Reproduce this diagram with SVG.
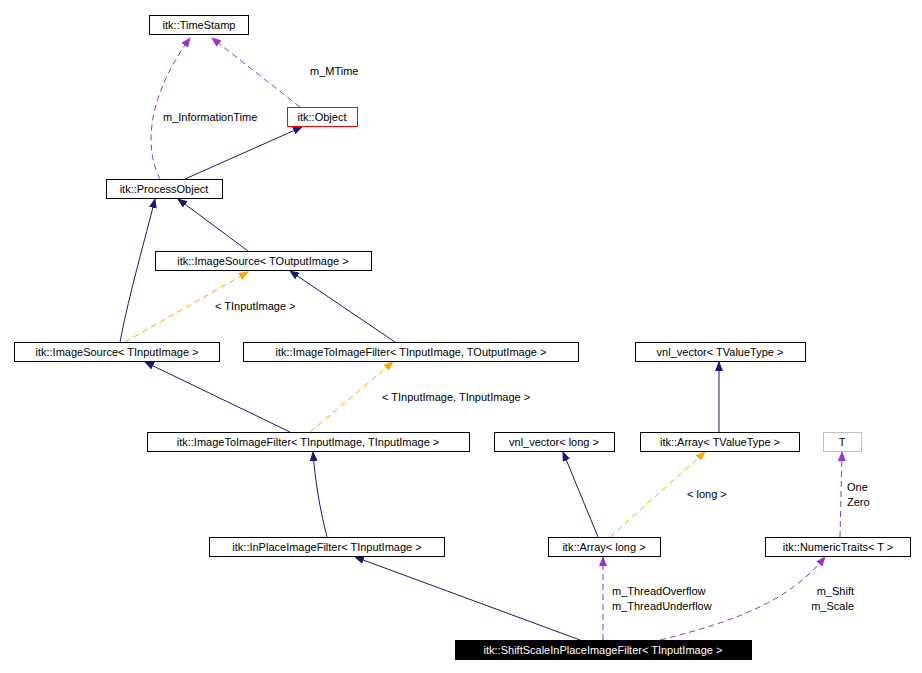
<svg xmlns="http://www.w3.org/2000/svg" width="922" height="673" viewBox="0 0 922 673">
<style>
text{font-family:"Liberation Sans",Arial,sans-serif;font-size:11px;fill:#000}
.n rect{fill:#fff;stroke:#000;stroke-width:1}
.s{fill:none;stroke:#191970;stroke-width:1}
.p{fill:none;stroke:#9a32cd;stroke-width:1;stroke-dasharray:6,4}
.o{fill:none;stroke:#ffa500;stroke-width:1;stroke-dasharray:6,4}
</style>
<defs>
<marker id="as" markerWidth="10" markerHeight="8" refX="9" refY="4" orient="auto" markerUnits="userSpaceOnUse"><path d="M0,0L10,4L0,8z" fill="#191970"/></marker>
<marker id="ap" markerWidth="10" markerHeight="8" refX="9" refY="4" orient="auto" markerUnits="userSpaceOnUse"><path d="M0,0L10,4L0,8z" fill="#9a32cd"/></marker>
<marker id="ao" markerWidth="10" markerHeight="8" refX="9" refY="4" orient="auto" markerUnits="userSpaceOnUse"><path d="M0,0L10,4L0,8z" fill="#ffa500"/></marker>
</defs>
<rect width="922" height="673" fill="#fff"/>
<g id="connectors">
<path class="p" d="M300,107L212,38" marker-end="url(#ap)"/>
<text x="310" y="75">m_MTime</text>
<path class="p" d="M160,179C145,150 145,100 190,38" marker-end="url(#ap)"/>
<text x="163" y="121">m_InformationTime</text>
<path class="s" d="M185,179L302,127" marker-end="url(#as)"/>
<path class="s" d="M248,251L178,199" marker-end="url(#as)"/>
<path class="s" d="M120,342C130,290 145,240 155,199" marker-end="url(#as)"/>
<path class="o" d="M125,342L248,272" marker-end="url(#ao)"/>
<text x="215" y="310">&lt; TInputImage &gt;</text>
<path class="s" d="M395,342L290,271" marker-end="url(#as)"/>
<path class="s" d="M290,432L145,362" marker-end="url(#as)"/>
<path class="o" d="M310,432L393,362" marker-end="url(#ao)"/>
<text x="382" y="401">&lt; TInputImage, TInputImage &gt;</text>
<path class="s" d="M327,537C320,510 315,480 313,452" marker-end="url(#as)"/>
<path class="s" d="M580,640L355,557" marker-end="url(#as)"/>
<path class="s" d="M598,537L563,452" marker-end="url(#as)"/>
<path class="o" d="M610,537L705,452" marker-end="url(#ao)"/>
<text x="687" y="498">&lt; long &gt;</text>
<path class="s" d="M719,432L719,362" marker-end="url(#as)"/>
<path class="p" d="M603,640L603,557" marker-end="url(#ap)"/>
<text x="612" y="595">m_ThreadOverflow</text>
<text x="612" y="610">m_ThreadUnderflow</text>
<path class="p" d="M660,640C740,620 790,600 825,557" marker-end="url(#ap)"/>
<text x="854" y="595" text-anchor="end">m_Shift</text>
<text x="854" y="610" text-anchor="end">m_Scale</text>
<path class="p" d="M840,537L842,452" marker-end="url(#ap)"/>
<text x="847" y="491">One</text>
<text x="847" y="506">Zero</text>
</g>
<g id="timestamp" class="n"><rect x="149.5" y="15.5" width="99" height="19"/><text x="199" y="29" text-anchor="middle">itk::TimeStamp</text></g>
<g id="object" class="n"><rect x="287.5" y="107.5" width="70" height="19" style="stroke:#f00"/><text x="322" y="121" text-anchor="middle">itk::Object</text></g>
<g id="processobject" class="n"><rect x="106.5" y="179.5" width="116" height="19"/><text x="164" y="193" text-anchor="middle">itk::ProcessObject</text></g>
<g id="imagesource_out" class="n"><rect x="155.5" y="251.5" width="216" height="19"/><text x="263" y="265" text-anchor="middle">itk::ImageSource&lt; TOutputImage &gt;</text></g>
<g id="imagesource_in" class="n"><rect x="14.5" y="342.5" width="205" height="19"/><text x="117" y="356" text-anchor="middle">itk::ImageSource&lt; TInputImage &gt;</text></g>
<g id="i2i_out" class="n"><rect x="243.5" y="342.5" width="335" height="19"/><text x="411" y="356" text-anchor="middle">itk::ImageToImageFilter&lt; TInputImage, TOutputImage &gt;</text></g>
<g id="vnl_tv" class="n"><rect x="635.5" y="342.5" width="170" height="19"/><text x="720" y="356" text-anchor="middle">vnl_vector&lt; TValueType &gt;</text></g>
<g id="i2i_in" class="n"><rect x="147.5" y="432.5" width="322" height="19"/><text x="308" y="446" text-anchor="middle">itk::ImageToImageFilter&lt; TInputImage, TInputImage &gt;</text></g>
<g id="vnl_long" class="n"><rect x="494.5" y="432.5" width="120" height="19"/><text x="554" y="446" text-anchor="middle">vnl_vector&lt; long &gt;</text></g>
<g id="array_tv" class="n"><rect x="640.5" y="432.5" width="159" height="19"/><text x="720" y="446" text-anchor="middle">itk::Array&lt; TValueType &gt;</text></g>
<g id="t" class="n"><rect x="823.5" y="432.5" width="38" height="19" style="stroke:#bfbfbf"/><text x="842" y="446" text-anchor="middle">T</text></g>
<g id="inplace" class="n"><rect x="209.5" y="537.5" width="235" height="19"/><text x="327" y="551" text-anchor="middle">itk::InPlaceImageFilter&lt; TInputImage &gt;</text></g>
<g id="array_long" class="n"><rect x="548.5" y="537.5" width="112" height="19"/><text x="604" y="551" text-anchor="middle">itk::Array&lt; long &gt;</text></g>
<g id="numerictraits" class="n"><rect x="765.5" y="537.5" width="145" height="19"/><text x="838" y="551" text-anchor="middle">itk::NumericTraits&lt; T &gt;</text></g>
<g id="shiftscale"><rect x="455.5" y="640.5" width="296" height="19" fill="#000" stroke="#000"/><text x="603" y="654" text-anchor="middle" style="fill:#fff">itk::ShiftScaleInPlaceImageFilter&lt; TInputImage &gt;</text></g>
</svg>
